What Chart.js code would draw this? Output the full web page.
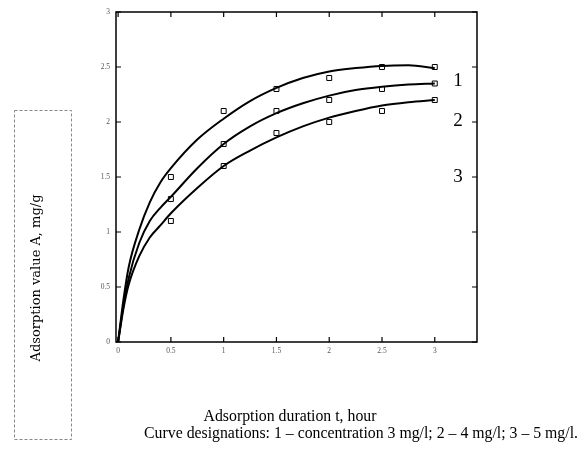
<!DOCTYPE html>
<html>
<head>
<meta charset="utf-8">
<script src="https://cdn.jsdelivr.net/npm/chart.js@4.4.0/dist/chart.umd.min.js"></script>
<style>
  html, body { margin: 0; padding: 0; background: #fff; }
  #wrap { width: 582px; height: 449px; position: relative; }
</style>
</head>
<body>
<div id="wrap"><canvas id="grafico"></canvas></div>
<script>
// tick labels
var xTicks = [0, 0.5, 1, 1.5, 2, 2.5, 3];
var yTicks = [0, 0.5, 1, 1.5, 2, 2.5, 3];

// measured points (squares)
var tMedido = [0.5, 1, 1.5, 2, 2.5, 3];
var medido1 = [1.5, 2.1, 2.3, 2.4, 2.5, 2.5];
var medido2 = [1.3, 1.8, 2.1, 2.2, 2.3, 2.35];
var medido3 = [1.1, 1.6, 1.9, 2.0, 2.1, 2.2];

// fitted curves
var tCurva = [0, 0.05, 0.1, 0.2, 0.3, 0.4, 0.5, 0.75, 1, 1.25, 1.5, 1.75, 2, 2.25, 2.5, 2.75, 3];
var curva1 = [0, 0.38, 0.68, 1.02, 1.27, 1.45, 1.58, 1.84, 2.03, 2.19, 2.31, 2.4, 2.46, 2.49, 2.51, 2.515, 2.49];
var curva2 = [0, 0.33, 0.58, 0.9, 1.1, 1.22, 1.32, 1.58, 1.8, 1.96, 2.08, 2.17, 2.24, 2.29, 2.32, 2.34, 2.35];
var curva3 = [0, 0.3, 0.52, 0.78, 0.95, 1.06, 1.17, 1.4, 1.6, 1.74, 1.86, 1.96, 2.04, 2.1, 2.15, 2.18, 2.2];

var curveNames = ['1', '2', '3'];
var yTitle = 'Adsorption value A, mg/g';
var xTitle = 'Adsorption duration t, hour';
var caption = 'Curve designations: 1 \u2013 concentration 3 mg/l; 2 \u2013 4 mg/l; 3 \u2013 5 mg/l.';

function pares(xs, ys) {
    return xs.map(function(x, i) { return { x: x, y: ys[i] }; });
}

function curva(ys) {
    return {
        type: 'line',
        data: pares(tCurva, ys),
        borderColor: '#000',
        borderWidth: 2,
        pointRadius: 0,
        cubicInterpolationMode: 'monotone',
        fill: false
    };
}

function puntos(ys) {
    return {
        type: 'scatter',
        data: pares(tMedido, ys),
        pointStyle: 'rect',
        pointRadius: 3.5,
        borderColor: '#000',
        backgroundColor: '#fff',
        borderWidth: 1
    };
}

// frame, inward ticks and extra text
var marco = {
    id: 'marco',
    afterDraw: function(chart) {
        var ctx = chart.ctx;
        var a = chart.chartArea;
        var sx = chart.scales.x, sy = chart.scales.y;
        ctx.save();
        ctx.strokeStyle = '#000';
        ctx.lineWidth = 1.5;
        ctx.strokeRect(a.left, a.top, a.right - a.left, a.bottom - a.top);
        ctx.lineWidth = 1.2;
        ctx.beginPath();
        xTicks.forEach(function(v) {
            var px = sx.getPixelForValue(v);
            ctx.moveTo(px, a.bottom); ctx.lineTo(px, a.bottom - 5);
            ctx.moveTo(px, a.top); ctx.lineTo(px, a.top + 5);
        });
        yTicks.forEach(function(v) {
            var py = sy.getPixelForValue(v);
            ctx.moveTo(a.left, py); ctx.lineTo(a.left + 5, py);
            ctx.moveTo(a.right, py); ctx.lineTo(a.right - 5, py);
        });
        ctx.stroke();

        // curve numbers
        ctx.fillStyle = '#000';
        ctx.font = '19px "Liberation Serif"';
        ctx.textAlign = 'center';
        ctx.textBaseline = 'middle';
        var yNum = [2.37, 2.01, 1.5];
        curveNames.forEach(function(n, i) {
            ctx.fillText(n, 458, sy.getPixelForValue(yNum[i]));
        });

        // y title box
        ctx.strokeStyle = '#888';
        ctx.lineWidth = 1;
        ctx.setLineDash([3, 2]);
        ctx.strokeRect(14.5, 110.5, 57, 329);
        ctx.setLineDash([]);
        ctx.save();
        ctx.translate(37, 278);
        ctx.rotate(-Math.PI / 2);
        ctx.font = '13px "DejaVu Serif"';
        ctx.fillText(yTitle, 0, 0);
        ctx.restore();

        // x title and caption
        ctx.font = '15.8px "Liberation Serif"';
        ctx.fillText(xTitle, 290, 417);
        ctx.textAlign = 'right';
        ctx.fillText(caption, 578, 434);
        ctx.restore();
    }
};

function etiqueta(v) {
    return String(v);
}

var ctx = document.getElementById('grafico').getContext('2d');
var grafico = new Chart(ctx, {
    data: {
        datasets: [curva(curva1), curva(curva2), curva(curva3),
                   puntos(medido1), puntos(medido2), puntos(medido3)]
    },
    options: {
        responsive: true,
        maintainAspectRatio: false,
        animation: false,
        layout: { padding: { left: 0, top: 12, right: 105, bottom: 0 } },
        plugins: { legend: { display: false }, tooltip: { enabled: false } },
        scales: {
            x: {
                type: 'linear',
                min: -0.02,
                max: 3.4,
                grid: { display: false, drawTicks: false },
                border: { display: false },
                afterBuildTicks: function(s) { s.ticks = xTicks.map(function(v) { return { value: v }; }); },
                afterFit: function(s) { s.height = 107; },
                ticks: {
                    padding: 5,
                    color: '#555',
                    font: { family: 'Liberation Serif', size: 7.5 },
                    maxRotation: 0,
                    autoSkip: false,
                    callback: etiqueta
                }
            },
            y: {
                type: 'linear',
                min: 0,
                max: 3,
                grid: { display: false, drawTicks: false },
                border: { display: false },
                afterBuildTicks: function(s) { s.ticks = yTicks.map(function(v) { return { value: v }; }); },
                afterFit: function(s) { s.width = 116; },
                ticks: {
                    padding: 6,
                    color: '#555',
                    font: { family: 'Liberation Serif', size: 7.5 },
                    autoSkip: false,
                    callback: etiqueta
                }
            }
        }
    },
    plugins: [marco]
});
</script>
</body>
</html>
